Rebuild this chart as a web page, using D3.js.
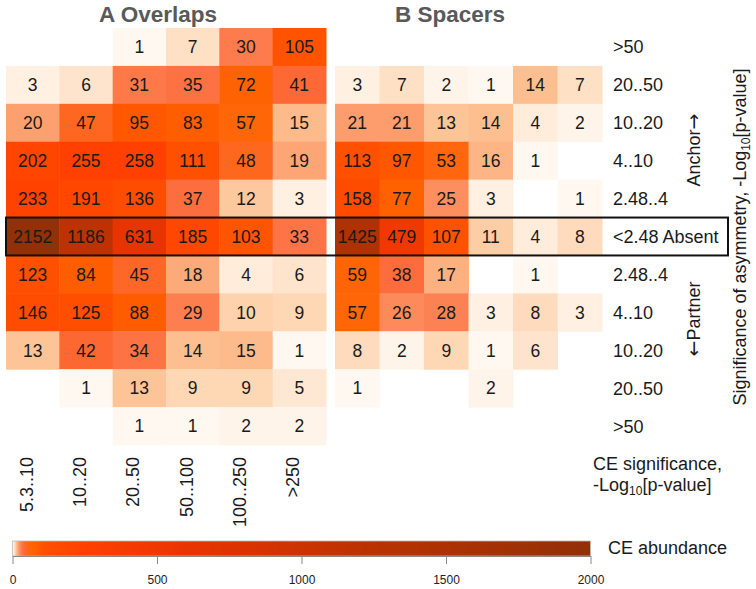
<!DOCTYPE html>
<html>
<head>
<meta charset="utf-8">
<script src="https://cdn.jsdelivr.net/npm/d3@7"></script>
<style>
  body { margin: 0; background: #fff; }
  svg text { font-family: "Liberation Sans", Arial, sans-serif; }
</style>
</head>
<body>
<svg width="756" height="589"></svg>
<script>
// column categories (CE significance) and row categories (asymmetry significance)
const colLabels = ["5.3..10", "10..20", "20..50", "50..100", "100..250", ">250"];
const rowLabels = [">50", "20..50", "10..20", "4..10", "2.48..4", "<2.48 Absent",
                   "2.48..4", "4..10", "10..20", "20..50", ">50"];
const absentRow = 5;

// counts, top row to bottom row, null = empty cell
const overlaps = [
  [null, null, 1, 7, 30, 105],
  [3, 6, 31, 35, 72, 41],
  [20, 47, 95, 83, 57, 15],
  [202, 255, 258, 111, 48, 19],
  [233, 191, 136, 37, 12, 3],
  [2152, 1186, 631, 185, 103, 33],
  [123, 84, 45, 18, 4, 6],
  [146, 125, 88, 29, 10, 9],
  [13, 42, 34, 14, 15, 1],
  [null, 1, 13, 9, 9, 5],
  [null, null, 1, 1, 2, 2]
];
const spacers = [
  [null, null, null, null, null, null],
  [3, 7, 2, 1, 14, 7],
  [21, 21, 13, 14, 4, 2],
  [113, 97, 53, 16, 1, null],
  [158, 77, 25, 3, null, 1],
  [1425, 479, 107, 11, 4, 8],
  [59, 38, 17, null, 1, null],
  [57, 26, 28, 3, 8, 3],
  [8, 2, 9, 1, 6, null],
  [1, null, null, 2, null, null],
  [null, null, null, null, null, null]
];
const legendTicks = [0, 500, 1000, 1500, 2000];

const colorStops = [0, 1, 3, 7, 14, 20, 30, 40, 55, 80, 110, 250, 600, 1200, 2000];
const colorRange = ["#ffffff", "#fff8f1", "#fff0e2", "#fee0c4", "#fdbf8f", "#fda070",
                    "#fd7b4c", "#fd6838", "#ff6608", "#ff6000", "#ff5000", "#ff4000",
                    "#ea3400", "#bc3200", "#923008"];
const color = d3.scaleLinear().domain(colorStops).range(colorRange).clamp(true);

const svg = d3.select("svg");
const y = d3.scaleBand().domain(d3.range(rowLabels.length)).range([28, 445]);
const xA = d3.scaleBand().domain(colLabels).range([6, 326]);
const xB = d3.scaleBand().domain(colLabels).range([335, 602]);

function drawPanel(data, x) {
  const cells = [];
  data.forEach((row, r) => row.forEach((v, c) => {
    if (v != null) cells.push({ r: r, c: colLabels[c], v: v });
  }));
  const g = svg.append("g");
  g.selectAll("rect").data(cells).enter().append("rect")
    .attr("x", d => x(d.c))
    .attr("y", d => y(d.r))
    .attr("width", x.bandwidth() + 0.5)
    .attr("height", y.bandwidth() + 0.5)
    .attr("fill", d => color(d.v));
  g.selectAll("text").data(cells).enter().append("text")
    .attr("x", d => x(d.c) + x.bandwidth() / 2)
    .attr("y", d => y(d.r) + y.bandwidth() / 2)
    .attr("dy", "0.36em")
    .attr("text-anchor", "middle")
    .style("font-size", "17.5px")
    .style("fill", "#1a1a1a")
    .text(d => d.v);
}

drawPanel(overlaps, xA);
drawPanel(spacers, xB);

// titles
svg.append("text").attr("x", 158).attr("y", 22).attr("text-anchor", "middle")
  .style("font-size", "22.5px").style("font-weight", "bold").style("fill", "#595959")
  .text("A Overlaps");
svg.append("text").attr("x", 450).attr("y", 22).attr("text-anchor", "middle")
  .style("font-size", "22.5px").style("font-weight", "bold").style("fill", "#595959")
  .text("B Spacers");

// row labels
svg.selectAll(".rowlab").data(rowLabels).enter().append("text")
  .attr("class", "rowlab")
  .attr("x", 613)
  .attr("y", (d, i) => y(i) + y.bandwidth() / 2)
  .attr("dy", "0.36em")
  .style("font-size", "18px")
  .style("fill", "#1a1a1a")
  .text(d => d);

// box around absent row
svg.append("rect")
  .attr("x", 6).attr("y", y(absentRow))
  .attr("width", 722).attr("height", y.bandwidth())
  .attr("fill", "none").attr("stroke", "#111").attr("stroke-width", 2);

// column labels (rotated)
svg.selectAll(".collab").data(colLabels).enter().append("text")
  .attr("class", "collab")
  .attr("transform", d => `translate(${xA(d) + xA.bandwidth() / 2},457) rotate(-90)`)
  .attr("text-anchor", "end")
  .style("font-size", "18px")
  .style("fill", "#1a1a1a")
  .text(d => d);

// right side axis titles
const anc = svg.append("text").attr("transform", "translate(700,150) rotate(-90)")
  .attr("text-anchor", "middle").style("font-size", "18px").style("fill", "#1a1a1a");
anc.append("tspan").text("Anchor");
anc.append("tspan").style("font-family", "'DejaVu Sans', sans-serif").style("font-size", "19px").text("\u2192");
const par = svg.append("text").attr("transform", "translate(700,319) rotate(-90)")
  .attr("text-anchor", "middle").style("font-size", "18px").style("fill", "#1a1a1a");
par.append("tspan").style("font-family", "'DejaVu Sans', sans-serif").style("font-size", "19px").text("\u2190");
par.append("tspan").text("Partner");
const sig = svg.append("text").attr("transform", "translate(746,237) rotate(-90)")
  .attr("text-anchor", "middle").style("font-size", "18px").style("fill", "#1a1a1a");
sig.append("tspan").text("Significance of asymmetry, -Log");
sig.append("tspan").attr("dy", 4).style("font-size", "12px").text("10");
sig.append("tspan").attr("dy", -4).text("[p-value]");

// x axis title
svg.append("text").attr("x", 593).attr("y", 470)
  .style("font-size", "18px").style("fill", "#1a1a1a").text("CE significance,");
const xt = svg.append("text").attr("x", 593).attr("y", 491)
  .style("font-size", "18px").style("fill", "#1a1a1a");
xt.append("tspan").text("-Log");
xt.append("tspan").attr("dy", 4).style("font-size", "12px").text("10");
xt.append("tspan").attr("dy", -4).text("[p-value]");

// colour legend
const lx = d3.scaleLinear().domain([0, 2000]).range([12.5, 590.5]);
const grad = svg.append("defs").append("linearGradient").attr("id", "cbar");
d3.range(0, 2001, 5).forEach(v => {
  grad.append("stop").attr("offset", (v / 2000 * 100) + "%").attr("stop-color", color(v));
});
svg.append("rect").attr("x", lx(0)).attr("y", 541)
  .attr("width", lx(2000) - lx(0)).attr("height", 15)
  .attr("fill", "url(#cbar)").attr("stroke", "#bbb").attr("stroke-width", 0.8);
const ax = svg.append("g").attr("transform", "translate(0,556)")
  .call(d3.axisBottom(lx).tickValues(legendTicks).tickFormat(d3.format("d"))
    .tickSize(8).tickSizeOuter(0));
ax.select(".domain").attr("stroke", "#888");
ax.selectAll(".tick line").attr("stroke", "#888");
ax.selectAll(".tick text").style("font-size", "12px")
  .style("font-family", "'Liberation Sans', Arial, sans-serif")
  .attr("fill", "#222").attr("y", 19);
svg.append("text").attr("x", 608).attr("y", 554)
  .style("font-size", "18px").style("fill", "#1a1a1a").text("CE abundance");
</script>
</body>
</html>
